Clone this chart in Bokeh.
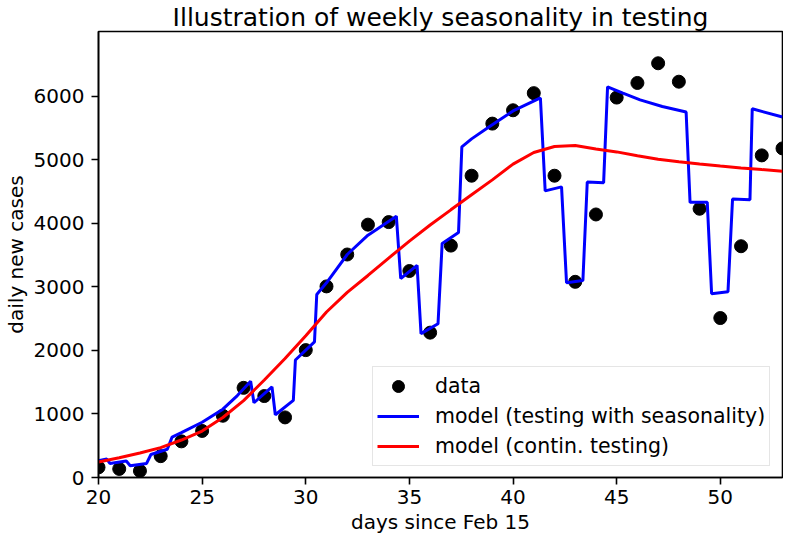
from bokeh.plotting import figure
from bokeh.models import Range1d, FixedTicker, Legend, LegendItem
from bokeh.embed import file_html
from bokeh.resources import INLINE

# observed data
days = list(range(20, 54))
cases = [160, 135, 104, 336, 569, 733, 972, 1411, 1282, 946,
         2005, 3008, 3510, 3980, 4020, 3250, 2280, 3650, 4750, 5570,
         5780, 6050, 4750, 3080, 4140, 5980, 6210, 6520, 6230, 4230,
         2510, 3640, 5070, 5180]

# model with weekly testing seasonality
seas_t = [20.0, 20.4, 20.55, 21.34, 21.53, 22.32, 22.53, 23.32, 23.55, 24.0,
          25.0, 26.0, 26.7, 27.34, 27.5, 28.37, 28.53, 29.4, 29.5, 30.42,
          30.53, 31.0, 32.0, 33.0, 34.37, 34.58, 35.37, 35.56, 36.38, 36.58,
          37.37, 37.53, 38.0, 38.87, 40.0, 41.32, 41.55, 42.34, 42.58, 43.37,
          43.58, 44.37, 44.56, 45.3, 46.13, 47.2, 48.35, 48.54, 49.37, 49.58,
          50.37, 50.59, 51.43, 51.54, 53.0]
seas_v = [264, 290, 222, 259, 186, 222, 362, 445, 636, 705,
          870, 1075, 1290, 1515, 1178, 1426, 988, 1214, 1850, 2135,
          2880, 3065, 3510, 3814, 4113, 3132, 3338, 2264, 2419, 3685,
          3856, 5205, 5330, 5525, 5770, 5974, 4512, 4574, 3065, 3101,
          4651, 4641, 6150, 6050, 5943, 5840, 5752, 4331, 4331, 2894,
          2925, 4383, 4372, 5803, 5674]

# model with continuous testing
cont_t = list(range(20, 54))
cont_v = [245, 310, 385, 470, 590, 730, 945, 1210, 1535, 1872,
          2231, 2605, 2915, 3180, 3454, 3721, 3974, 4213, 4450, 4685,
          4932, 5115, 5210, 5225, 5170, 5125, 5065, 5010, 4970, 4934,
          4902, 4873, 4847, 4822]

x_ticks = [20, 25, 30, 35, 40, 45, 50]
y_ticks = [0, 1000, 2000, 3000, 4000, 5000, 6000]

FONT = "DejaVu Sans"

p = figure(width=783, height=536, output_backend="svg", toolbar_location=None,
           x_range=Range1d(20, 53), y_range=Range1d(0, 7020),
           min_border_left=88, min_border_right=1, min_border_top=0,
           min_border_bottom=50)

p.title.text = "Illustration of weekly seasonality in testing"
p.title.text_font = FONT
p.title.text_font_size = "25px"
p.title.text_font_style = "normal"
p.title.text_color = "black"
p.title.text_line_height = 1.0
p.title.align = "center"
p.title.standoff = 0
p.title.offset = 0

p.xgrid.visible = False
p.ygrid.visible = False
p.outline_line_color = "black"
p.outline_line_width = 1.6
p.outline_line_alpha = 1.0
p.background_fill_color = "white"
p.border_fill_color = "white"

for ax in (p.xaxis[0], p.yaxis[0]):
    ax.axis_line_width = 1.6
    ax.axis_line_color = "black"
    ax.major_tick_line_width = 1.6
    ax.major_tick_line_color = "black"
    ax.major_tick_out = 7
    ax.major_tick_in = 0
    ax.minor_tick_line_color = None
    ax.major_label_text_font = FONT
    ax.major_label_text_font_size = "20px"
    ax.major_label_text_color = "black"
    ax.major_label_text_line_height = 1.0
    ax.axis_label_text_font = FONT
    ax.axis_label_text_font_size = "20px"
    ax.axis_label_text_font_style = "normal"
    ax.axis_label_text_color = "black"
    ax.axis_label_text_line_height = 1.0

p.xaxis.ticker = FixedTicker(ticks=x_ticks)
p.yaxis.ticker = FixedTicker(ticks=y_ticks)
p.xaxis.axis_label = "days since Feb 15"
p.yaxis.axis_label = "daily new cases"
p.xaxis.major_label_standoff = 5
p.yaxis.major_label_standoff = 7
p.xaxis.axis_label_standoff = 3
p.yaxis.axis_label_standoff = 3

r_data = p.scatter(days, cases, size=13, color="black")
r_seas = p.line(seas_t, seas_v, line_color="blue", line_width=3)
r_cont = p.line(cont_t, cont_v, line_color="red", line_width=3)

legend = Legend(items=[
    LegendItem(label="data", renderers=[r_data]),
    LegendItem(label="model (testing with seasonality)", renderers=[r_seas]),
    LegendItem(label="model (contin. testing)", renderers=[r_cont]),
], location=(274, 11))
legend.label_text_font = FONT
legend.label_text_font_size = "20.5px"
legend.label_text_color = "black"
legend.glyph_width = 42
legend.glyph_height = 30
legend.label_height = 30
legend.spacing = 0
legend.padding = 4
legend.margin = 0
legend.label_standoff = 16
legend.border_line_color = "#cccccc"
legend.border_line_width = 1.5
legend.background_fill_alpha = 0.8
p.add_layout(legend)

open("out.html", "w").write(file_html(p, INLINE))
